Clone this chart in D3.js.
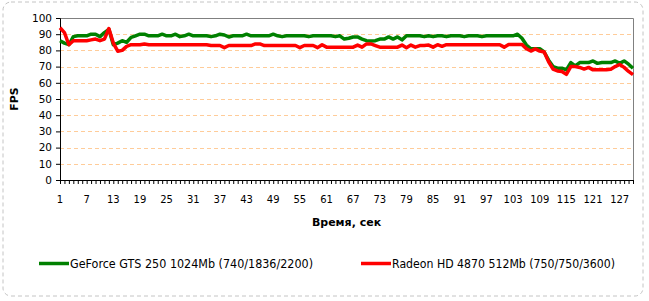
<!DOCTYPE html>
<html>
<head>
<meta charset="utf-8">
<script src="https://cdn.jsdelivr.net/npm/d3@7"></script>
<style>
  body { margin: 0; background: #fff; }
  text { font-family: "DejaVu Sans", Verdana, sans-serif; }
</style>
</head>
<body>
<div id="chart"></div>
<script>
// categories: seconds 1..130
const seconds = d3.range(1, 131);
const xTickLabels = [1, 7, 13, 19, 25, 31, 37, 43, 49, 55, 61, 67, 73, 79, 85, 91, 97, 103, 109, 115, 121, 127];
const yTickLabels = [0, 10, 20, 30, 40, 50, 60, 70, 80, 90, 100];

const seriesNames = ["GeForce GTS 250 1024Mb (740/1836/2200)", "Radeon HD 4870 512Mb (750/750/3600)"];

const geforce = [
  86, 84.5, 83.5, 88.5, 89, 89, 89, 90, 90, 88.5,
  91, 93, 83.5, 84.5, 86, 85, 88, 89, 90, 90,
  89, 89, 89, 90, 89, 89, 90, 88.5, 89, 90,
  89, 89, 89, 89, 88.5, 89, 90, 89.5, 88.3, 89,
  89, 89, 90, 89, 89, 89, 89, 89, 90, 89,
  88.5, 89, 89, 89, 89, 89, 88.5, 89, 89, 89,
  89, 89, 88.5, 89, 87, 87.5, 88.3, 88.3, 87, 86,
  85.8, 86, 87, 87, 88.3, 87, 88.3, 86.5, 89, 89,
  89, 89, 88.5, 89, 88.5, 89, 89, 88.5, 89, 89,
  89, 88.5, 89, 89, 89, 88.5, 89, 89, 89, 89,
  89, 89, 89, 90, 87.5, 83.3, 81, 81, 81, 79,
  74, 70, 69, 69, 68, 72.5, 70.5, 72.5, 72.5, 72.5,
  73.5, 72, 72.5, 72.5, 72.5, 73.5, 72, 73.5, 71.5, 69
];

const radeon = [
  94, 91, 83.5, 86, 86, 86, 86, 86.5, 87, 86,
  87, 93.5, 84.5, 79.5, 80, 82.5, 83.5, 83.5, 83.5, 84,
  83.5, 83.5, 83.5, 83.5, 83.5, 83.5, 83.5, 83.5, 83.5, 83.5,
  83.5, 83.5, 83.5, 83.5, 83, 83, 83, 81.7, 83, 83,
  83, 83, 83, 83, 84, 84, 83, 83, 83, 83,
  83, 83, 83, 83, 81.7, 83, 83, 83, 81.7, 83.5,
  82, 82, 82, 82, 82, 82, 82, 83.3, 82, 84,
  84, 83, 82, 82, 82, 82, 82, 83.3, 81.7, 83.3,
  82, 83, 83, 83.3, 82, 83.5, 82.5, 83.5, 83.5, 83.5,
  83.5, 83.5, 83.5, 83.5, 83.5, 83.5, 83.5, 83.5, 83.5, 83.5,
  82, 83.7, 83.7, 83.7, 83.7, 81, 79.6, 80.9, 79.6, 79,
  73, 68.5, 67.3, 67, 65.2, 70, 70, 69.5, 68.5, 69.5,
  68, 68, 68, 68, 68.3, 70, 71.3, 69.5, 67, 65
];

const colors = ["#008000", "#ff0000"];

// set the dimensions and margins of the graph
const W = 649, H = 301;
const margin = { top: 18, right: 16, bottom: 121, left: 60 },
    width = W - margin.left - margin.right,
    height = H - margin.top - margin.bottom;

const root = d3.select("#chart")
    .append("svg")
    .attr("width", W)
    .attr("height", H);

// outer dashed frame
root.append("rect")
    .attr("x", 3).attr("y", 2)
    .attr("width", 640).attr("height", 294)
    .attr("rx", 8)
    .attr("fill", "none")
    .attr("stroke", "#c4c4c4")
    .attr("stroke-dasharray", "4,3");

const svg = root.append("g")
    .attr("transform", "translate(" + margin.left + "," + margin.top + ")");

const x = d3.scalePoint()
    .domain(seconds)
    .range([0, width]);

const y = d3.scaleLinear()
    .domain([0, 100])
    .range([height, 0]);

// grid lines
svg.append("g")
    .selectAll("line")
    .data(yTickLabels.filter(v => v > 0 && v < 100))
    .join("line")
    .attr("x1", 0).attr("x2", width)
    .attr("y1", d => Math.round(y(d)) + 0.5)
    .attr("y2", d => Math.round(y(d)) + 0.5)
    .attr("stroke", "#ffcc99")
    .attr("stroke-dasharray", "4,3");

// top and right border
svg.append("path")
    .attr("d", `M0,0.5H${width + 0.5}V${height}`)
    .attr("fill", "none")
    .attr("stroke", "#808080");

// x axis: minor ticks on every second, labels every 6
const xAxisG = svg.append("g")
    .attr("transform", "translate(0," + height + ")")
    .call(d3.axisBottom(x).tickSize(4).tickFormat(""));
xAxisG.select(".domain").attr("stroke", "#000");
xAxisG.selectAll(".tick line").attr("stroke", "#000");

svg.append("g")
    .selectAll("text")
    .data(xTickLabels)
    .join("text")
    .attr("x", d => x(d))
    .attr("y", height + 23)
    .attr("text-anchor", "middle")
    .style("font-size", "10px")
    .attr("fill", "#000")
    .text(d => d);

// y axis
const yAxisG = svg.append("g")
    .call(d3.axisLeft(y).tickValues(yTickLabels).tickSize(4).tickPadding(4));
yAxisG.select(".domain").attr("stroke", "#000");
yAxisG.selectAll(".tick line").attr("stroke", "#000");
yAxisG.selectAll(".tick text")
    .style("font-size", "10.5px")
    .attr("fill", "#000");

// axis titles
svg.append("text")
    .attr("transform", "translate(" + (-42) + "," + (height / 2) + ") rotate(-90)")
    .attr("text-anchor", "middle")
    .style("font-size", "11px")
    .style("font-weight", "bold")
    .text("FPS");

svg.append("text")
    .attr("x", width / 2)
    .attr("y", height + 46)
    .attr("text-anchor", "middle")
    .style("font-size", "11px")
    .style("font-weight", "bold")
    .text("Время, сек");

// the lines
const line = d3.line()
    .x((d, i) => x(seconds[i]))
    .y(d => y(d));

[geforce, radeon].forEach((values, k) => {
    svg.append("path")
        .datum(values)
        .attr("fill", "none")
        .attr("stroke", colors[k])
        .attr("stroke-width", 3.5)
        .attr("stroke-linejoin", "round")
        .attr("d", line);
});

// legend
const legendItems = [
    { x: 39, textLen: 243 },
    { x: 361, textLen: 223 }
];
legendItems.forEach((item, k) => {
    root.append("line")
        .attr("x1", item.x).attr("x2", item.x + 30)
        .attr("y1", 263.5).attr("y2", 263.5)
        .attr("stroke", colors[k])
        .attr("stroke-width", 3.5);
    root.append("text")
        .attr("x", item.x + 31)
        .attr("y", 267.5)
        .attr("textLength", item.textLen)
        .attr("lengthAdjust", "spacingAndGlyphs")
        .style("font-size", "11.5px")
        .text(seriesNames[k]);
});
</script>
</body>
</html>
